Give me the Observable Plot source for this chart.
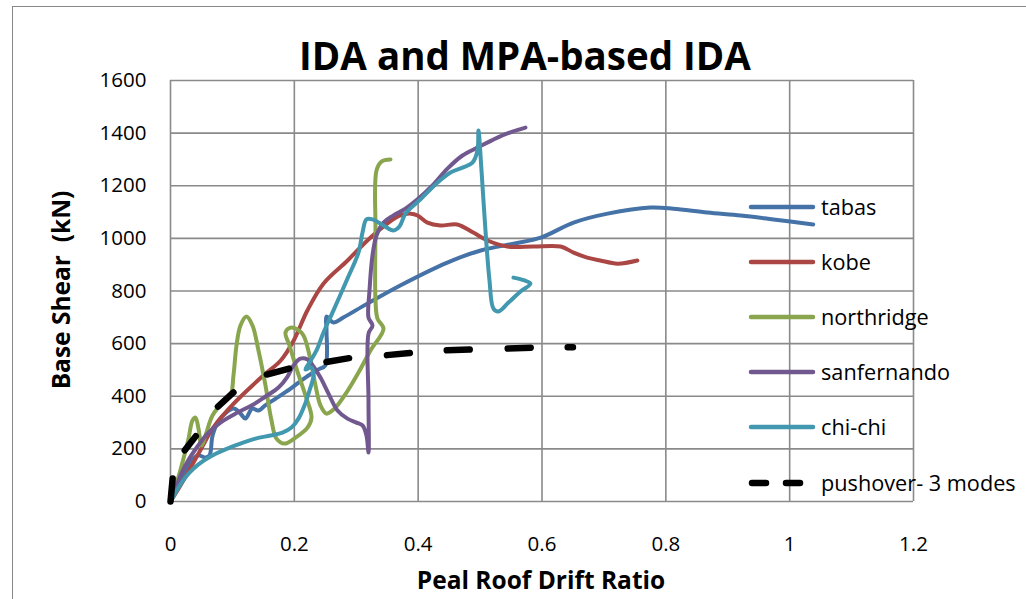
<!DOCTYPE html>
<html><head><meta charset="utf-8">
<script src="https://cdn.jsdelivr.net/npm/d3@7"></script>
<script src="https://cdn.jsdelivr.net/npm/@observablehq/plot@0.6"></script>
<style>
body{margin:0;background:#fff;font-family:"Open Sans",sans-serif;}
#wrap{position:relative;width:1026px;height:599px;overflow:hidden;background:#fff}
#frame{position:absolute;left:12px;top:6px;width:1030px;height:640px;border:1.5px solid #888;box-sizing:border-box}
#chart{position:absolute;left:0;top:0}
#over{position:absolute;left:0;top:0;pointer-events:none}
</style></head>
<body>
<div id="wrap"><div id="frame"></div><div id="chart"></div></div>
<script>
// ---- data ----
const seriesNames = ["tabas", "kobe", "northridge", "sanfernando", "chi-chi", "pushover- 3 modes"];
const seriesColors = ["#4572A7", "#AA4643", "#89A54E", "#71588F", "#4198AF", "#000000"];
const xTicks = [0, 0.2, 0.4, 0.6, 0.8, 1, 1.2];
const yTicks = [0, 200, 400, 600, 800, 1000, 1200, 1400, 1600];

const tabasX = [0,0.016,0.032,0.044,0.057,0.063,0.068,0.078,0.102,0.113,0.121,0.132,0.142,0.153,0.170,0.194,0.218,0.239,0.250,0.252,0.252,0.263,0.279,0.318,0.371,0.447,0.501,0.554,0.598,0.651,0.706,0.775,0.812,0.867,0.921,0.974,1.038];
const tabasY = [0,80,148,175,167,175,251,308,353,334,315,353,346,365,391,429,471,502,517,650,703,680,699,752,821,908,954,980,1003,1060,1094,1117,1113,1098,1087,1072,1053];

const kobeX = [0,0.016,0.048,0.069,0.102,0.150,0.178,0.199,0.221,0.247,0.286,0.318,0.350,0.371,0.388,0.399,0.415,0.436,0.463,0.489,0.512,0.544,0.586,0.630,0.651,0.673,0.694,0.722,0.754];
const kobeY = [0,61,194,281,372,479,536,612,726,828,916,992,1056,1087,1094,1087,1060,1049,1053,1022,992,969,969,969,946,927,916,904,916];

const northX = [0,0.0113,0.0210,0.0291,0.0355,0.0404,0.0452,0.0501,0.0565,0.0678,0.0840,0.0969,0.1017,0.1066,0.1130,0.1227,0.1324,0.1421,0.1534,0.1631,0.1712,0.1841,0.2019,0.2213,0.2277,0.2180,0.2035,0.1922,0.1857,0.1938,0.2051,0.2148,0.2245,0.2342,0.2422,0.2519,0.2649,0.2842,0.3036,0.3230,0.3440,0.3343,0.3311,0.3311,0.3327,0.3408,0.3553];
const northY = [0,80,163,239,308,319,277,213,251,327,376,403,479,593,669,703,669,574,441,308,239,220,243,281,319,403,505,593,642,661,654,631,555,441,365,334,353,414,490,574,657,695,764,1030,1258,1292,1300];

const sanX = [0,0.0081,0.0161,0.0275,0.0436,0.0598,0.0807,0.1082,0.1340,0.1534,0.1744,0.1890,0.1986,0.2099,0.2213,0.2309,0.2422,0.2552,0.2697,0.2858,0.3004,0.3101,0.3165,0.3198,0.3198,0.3198,0.3262,0.3198,0.3214,0.3262,0.3327,0.3440,0.3601,0.3795,0.4005,0.4231,0.4473,0.4716,0.4958,0.5281,0.5523,0.5733];
const sanY = [0,49,99,152,209,258,300,338,369,399,433,475,517,543,540,513,471,410,346,315,300,289,251,186,384,638,669,699,802,935,1011,1060,1087,1113,1151,1201,1265,1315,1345,1383,1406,1421];

const chiX = [0,0.0065,0.0161,0.0291,0.0452,0.0646,0.0888,0.1130,0.1373,0.1615,0.1809,0.1954,0.2067,0.2164,0.2245,0.2309,0.2277,0.2180,0.2245,0.2358,0.2471,0.2616,0.2858,0.3036,0.3101,0.3165,0.3262,0.3440,0.3601,0.3698,0.3795,0.4037,0.4280,0.4522,0.4716,0.4877,0.4958,0.4974,0.5023,0.5087,0.5152,0.5216,0.5297,0.5459,0.5652,0.5814,0.5717,0.5539];
const chiY = [0,27,65,106,141,171,198,220,239,251,262,281,315,365,422,479,509,502,528,574,642,718,847,946,1022,1072,1072,1049,1030,1045,1094,1148,1205,1250,1269,1288,1334,1410,1258,1030,840,733,722,756,798,828,840,851];

const pushX = [0,0.004,0.02,0.044,0.073,0.105,0.15,0.197,0.247,0.294,0.344,0.392,0.441,0.489,0.541,0.589,0.65];
const pushY = [0,100,185,258,353,422,479,509,528,547,555,566,574,578,581,585,586];

const xs = [tabasX, kobeX, northX, sanX, chiX, pushX];
const ys = [tabasY, kobeY, northY, sanY, chiY, pushY];
const table = seriesNames.map((name, i) => xs[i].map((x, j) => ({name, x, y: ys[i][j]})));

// ---- chart ----
const W = 1026, H = 599;
const mL = 170, mR = 113, mT = 80, mB = 98;
const pushDash = "23,31,18,37,21,38,23,38,23,38,23,37,23,38,23,37,40,40";
const marks = [
  Plot.gridX(xTicks, {stroke: "#8a8a8a", strokeOpacity: 1, strokeWidth: 1.6}),
  Plot.gridY(yTicks, {stroke: "#8a8a8a", strokeOpacity: 1, strokeWidth: 1.6}),
  Plot.axisX(xTicks, {tickSize: 0, tickPadding: 35, fontSize: 20.5, fill: "#000", tickFormat: d => String(d), label: null}),
  Plot.axisY(yTicks, {tickSize: 0, tickPadding: 24, fontSize: 20.5, fill: "#000", tickFormat: d => String(d), label: null})
];
table.forEach((rows, i) => {
  const dashed = i === 5;
  marks.push(Plot.line(rows, {
    x: "x", y: "y", stroke: seriesColors[i],
    strokeWidth: dashed ? 6.5 : 4,
    strokeDasharray: dashed ? pushDash : null,
    strokeLinecap: "round", strokeLinejoin: "round",
    curve: dashed ? "linear" : "catmull-rom"
  }));
});
const plot = Plot.plot({
  width: W, height: H,
  marginLeft: mL, marginRight: mR, marginTop: mT, marginBottom: mB,
  x: {domain: [0, 1.2]}, y: {domain: [0, 1600]},
  style: {fontFamily: "'Open Sans', sans-serif", background: "transparent", color: "#000"},
  marks
});
document.getElementById("chart").appendChild(plot);

// ---- overlay texts & legend ----
const svg = d3.select("#wrap").append("svg").attr("id", "over").attr("width", W).attr("height", H)
  .style("font-family", "'Open Sans', sans-serif");
svg.append("text").attr("x", 525).attr("y", 70).attr("text-anchor", "middle")
  .attr("font-size", 38.5).attr("font-weight", 700).text("IDA and MPA-based IDA");
svg.append("text").attr("x", 541).attr("y", 589).attr("text-anchor", "middle")
  .attr("font-size", 24.5).attr("font-weight", 700).text("Peal Roof Drift Ratio");
svg.append("text").attr("transform", "translate(70,290) rotate(-90)").attr("text-anchor", "middle")
  .attr("font-size", 24.5).attr("font-weight", 700).style("white-space", "pre").text("Base Shear  (kN)");
const legY = [207, 262, 317, 372, 427, 483];
seriesNames.forEach((name, i) => {
  const g = svg.append("g");
  if (i === 5) {
    g.append("line").attr("x1", 752).attr("x2", 811).attr("y1", legY[i]).attr("y2", legY[i])
      .attr("stroke", "#000").attr("stroke-width", 6.5).attr("stroke-linecap", "round")
      .attr("stroke-dasharray", "14,20");
  } else {
    g.append("line").attr("x1", 751).attr("x2", 813).attr("y1", legY[i]).attr("y2", legY[i])
      .attr("stroke", seriesColors[i]).attr("stroke-width", 4.5).attr("stroke-linecap", "round");
  }
  g.append("text").attr("x", 821).attr("y", legY[i] + 7.5).attr("font-size", 21.7).text(name);
});
</script>
</body></html>
